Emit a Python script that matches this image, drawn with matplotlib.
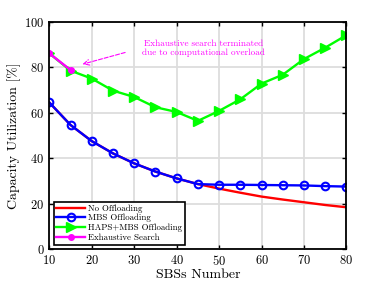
import matplotlib
matplotlib.use('Agg')
import matplotlib.pyplot as plt

plt.rcParams['font.family'] = ['cmr10', 'DejaVu Serif']
plt.rcParams['axes.formatter.use_mathtext'] = True

# data
sbs = [10, 15, 20, 25, 30, 35, 40, 45, 50, 55, 60, 65, 70, 75, 80]
no_off = [64.5, 54.6, 47.5, 42.1, 37.7, 34.1, 31.1, 28.6, 26.6, 24.8, 23.1, 21.8, 20.6, 19.4, 18.4]
mbs_off = [64.5, 54.6, 47.5, 42.1, 37.7, 34.1, 31.1, 28.6, 28.3, 28.3, 28.2, 28.1, 28.0, 27.7, 27.5]
haps_off = [86.1, 78.5, 75.0, 69.7, 66.9, 62.4, 60.3, 56.4, 60.8, 65.9, 72.8, 76.7, 83.6, 88.6, 94.1]
exh_x = [10, 15]
exh = [86.1, 78.8]

fig = plt.figure(figsize=(3.82, 2.86), dpi=100)
ax = fig.add_axes([0.129, 0.129, 0.778, 0.795])

ax.plot(sbs, no_off, color='#ff0000', lw=1.7, label='No Offloading')
ax.plot(sbs, mbs_off, color='#0000ff', lw=1.7, marker='o', ms=5.5, mfc='none', mew=1.5,
        label='MBS Offloading')
ax.plot(sbs, haps_off, color='#00ff00', lw=1.7, marker='>', ms=6.5, label='HAPS+MBS Offloading')
ax.plot(exh_x, exh, color='#ff00ff', lw=1.7, marker='o', ms=4, label='Exhaustive Search')

ax.annotate('', xy=(17.2, 81), xytext=(28.5, 86.8),
            arrowprops=dict(arrowstyle='->', color='#ff00ff', ls='--', lw=0.8))
ax.text(46.4, 88.2, 'Exhaustive search terminated\ndue to computational overload',
        color='#ff00ff', fontsize=6.6, ha='center', va='center', linespacing=1.1)

ax.set_xlim(10, 80)
ax.set_ylim(0, 100)
ax.set_xticks(range(10, 81, 10))
ax.set_yticks(range(0, 101, 20))
ax.grid(True, color='#dddddd', lw=1.3)
ax.set_axisbelow(True)
ax.tick_params(direction='in', top=True, right=True, labelsize=9, length=3, width=1)
for s in ax.spines.values():
    s.set_linewidth(1.3)
ax.set_xlabel('SBSs Number', fontsize=10, labelpad=1)
ax.set_ylabel('Capacity Utilization [%]', fontsize=10, labelpad=2)

leg = ax.legend(loc='lower left', fontsize=6.4, fancybox=False, framealpha=1,
                edgecolor='black', borderpad=0.3, labelspacing=0.15, handlelength=3.2,
                handletextpad=0.4, borderaxespad=0.5)
leg.get_frame().set_linewidth(1.2)

fig.savefig('out.png', dpi=100)
